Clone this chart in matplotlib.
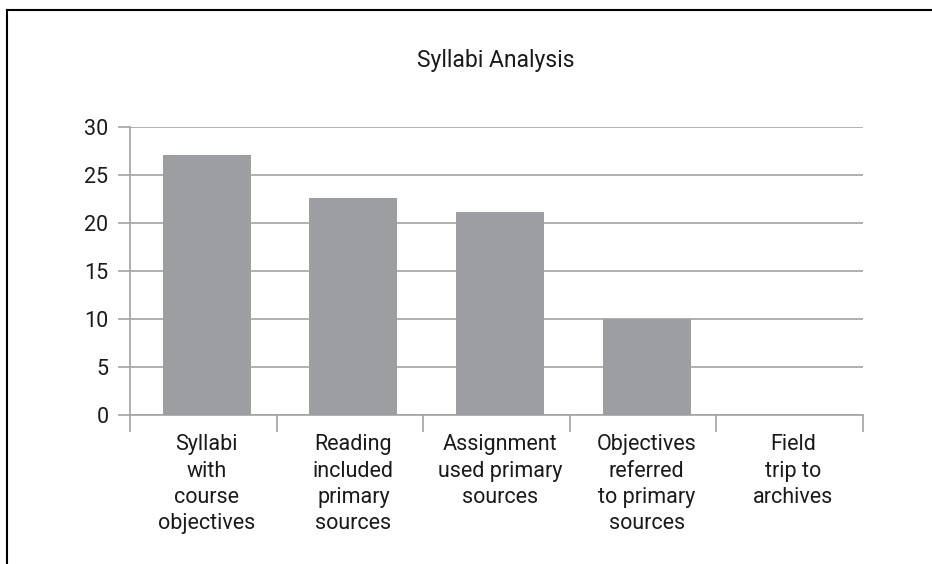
import matplotlib
matplotlib.use("Agg")
import matplotlib.pyplot as plt
from matplotlib.lines import Line2D
import numpy as np

categories = [
    "Syllabi\nwith\ncourse\nobjectives",
    "Reading\nincluded\nprimary\nsources",
    "Assignment\nused primary\nsources",
    "Objectives\nreferred\nto primary\nsources",
    "Field\ntrip to\narchives",
]
values = [27.1, 22.6, 21.1, 10.0, 0.0]
yticks = [0, 5, 10, 15, 20, 25, 30]

TEXT = "#1a1a1a"
GRID = "#a3a3a5"
BAR = "#9d9ea2"

plt.rcParams["font.family"] = ["Roboto", "DejaVu Sans"]

W, H = 932, 564
fig = plt.figure(figsize=(W / 100, H / 100), dpi=100)
ax = fig.add_axes([130 / W, 1 - 415 / H, (863 - 130) / W, (415 - 127) / H])

# bars and labels sit slightly right of the category centres, as in the original
shift = 0.024
x = np.arange(len(categories))
ax.bar(x + shift, values, width=0.6, color=BAR, zorder=3)

ax.set_xlim(-0.5, len(categories) - 0.5)
ax.set_ylim(0, 30)
ax.set_yticks(yticks)
ax.set_yticklabels([str(v) for v in yticks], fontsize=15.5, color=TEXT)
ax.yaxis.grid(True, color=GRID, linewidth=1.2, zorder=0)
ax.tick_params(axis="y", length=9, width=1.2, color=GRID, pad=6.5)

# category boundaries as major ticks, labels on minor ticks
ax.set_xticks(np.arange(-0.5, len(categories)))
ax.set_xticklabels([])
ax.set_xticks(x + shift, minor=True)
ax.set_xticklabels(categories, minor=True, fontsize=15.5, color=TEXT,
                   linespacing=1.32, va="top")
ax.tick_params(axis="x", which="major", length=12, width=1.2, color=GRID)
ax.tick_params(axis="x", which="minor", length=0, pad=14)

for side in ("top", "right"):
    ax.spines[side].set_visible(False)
for side in ("left", "bottom"):
    ax.spines[side].set_color(GRID)
    ax.spines[side].set_linewidth(1.2)

fig.text(496 / W, 1 - 61 / H, "Syllabi Analysis", ha="center", va="center",
         fontsize=16.5, color=TEXT)

# frame around the figure (left and top edges only visible)
fig.add_artist(Line2D([6.5 / W, 6.5 / W], [0, 1 - 9.5 / H],
                      transform=fig.transFigure, color="black", linewidth=1.5))
fig.add_artist(Line2D([6.5 / W, 1], [1 - 9.5 / H, 1 - 9.5 / H],
                      transform=fig.transFigure, color="black", linewidth=1.5))

fig.savefig("out.png", dpi=100)
